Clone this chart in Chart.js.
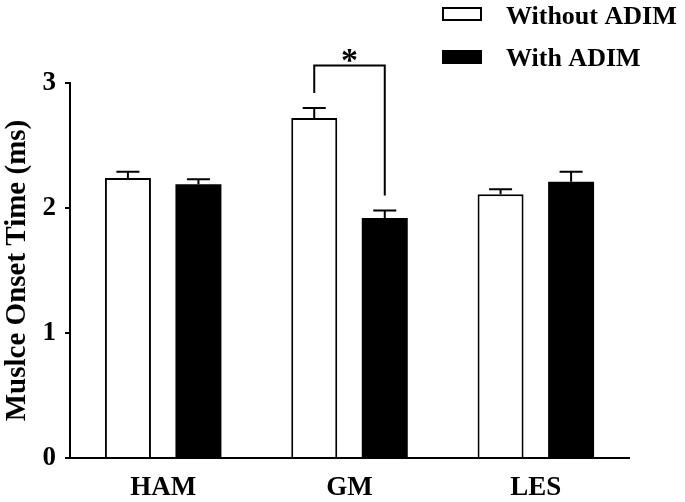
<!DOCTYPE html>
<html><head><meta charset="utf-8">
<script src="https://cdn.jsdelivr.net/npm/chart.js@4"></script>
<style>html,body{margin:0;padding:0;background:#fff}#wrap{width:685px;height:502px}</style>
</head><body><div id="wrap"><canvas id="c" width="685" height="502"></canvas></div>
<script>
const categories = ['HAM', 'GM', 'LES'];
const seriesNames = ['Without ADIM', 'With ADIM'];
const withoutADIM = [2.24, 2.72, 2.11];
const withADIM = [2.19, 1.92, 2.21];
const withoutADIMErr = [0.05, 0.08, 0.04];
const withADIMErr = [0.04, 0.06, 0.08];
const yTicks = [0, 1, 2, 3];
const yTitle = 'Muslce Onset Time (ms)';
const sigCategoryIndex = [1];
const sigLevels = [2.92, 3.14, 2.10]; // left end, bracket top, right end
const sigLabel = ['*'];

const FONT = "'Liberation Serif', 'Times New Roman', serif";

const errorBars = {
  id: 'errorBars',
  afterDatasetsDraw(chart) {
    const ctx = chart.ctx, y = chart.scales.y;
    const errs = [withoutADIMErr, withADIMErr];
    ctx.save();
    ctx.strokeStyle = '#000';
    ctx.lineWidth = 2;
    chart.data.datasets.forEach((ds, i) => {
      chart.getDatasetMeta(i).data.forEach((bar, j) => {
        const top = y.getPixelForValue(ds.data[j] + errs[i][j]);
        ctx.beginPath();
        ctx.moveTo(bar.x, bar.y);
        ctx.lineTo(bar.x, top);
        ctx.moveTo(bar.x - 11.5, top);
        ctx.lineTo(bar.x + 11.5, top);
        ctx.stroke();
      });
    });
    // significance bracket
    sigCategoryIndex.forEach((ci, k) => {
      const xl = chart.getDatasetMeta(0).data[ci].x;
      const xr = chart.getDatasetMeta(1).data[ci].x;
      const yl = y.getPixelForValue(sigLevels[0]);
      const yt = y.getPixelForValue(sigLevels[1]);
      const yr = y.getPixelForValue(sigLevels[2]);
      ctx.beginPath();
      ctx.moveTo(xl, yl); ctx.lineTo(xl, yt); ctx.lineTo(xr, yt); ctx.lineTo(xr, yr);
      ctx.stroke();
      ctx.fillStyle = '#000';
      ctx.font = 'bold 34px ' + FONT;
      ctx.textAlign = 'center';
      ctx.textBaseline = 'alphabetic';
      ctx.fillText(sigLabel[k], (xl + xr) / 2, yt + 5);
    });
    ctx.restore();
  }
};

const customLegend = {
  id: 'customLegend',
  afterDraw(chart) {
    const ctx = chart.ctx;
    ctx.save();
    ctx.font = 'bold 26px ' + FONT;
    ctx.textAlign = 'left';
    ctx.textBaseline = 'alphabetic';
    chart.data.datasets.forEach((ds, i) => {
      const by = 7 + i * 43;
      if (i === 0) {
        ctx.fillStyle = '#fff';
        ctx.fillRect(443, by + 1, 38, 12);
        ctx.strokeStyle = '#000';
        ctx.lineWidth = 2;
        ctx.strokeRect(443, by + 1, 38, 12);
      } else {
        ctx.fillStyle = '#000';
        ctx.fillRect(442, by, 40, 14);
      }
      ctx.fillStyle = '#000';
      ctx.fillText(ds.label, 506, 24 + i * 42);
    });
    ctx.restore();
  }
};

new Chart(document.getElementById('c'), {
  type: 'bar',
  data: {
    labels: categories,
    datasets: [
      { label: seriesNames[0], data: withoutADIM, backgroundColor: '#ffffff', borderColor: '#000000', borderWidth: 2 },
      { label: seriesNames[1], data: withADIM, backgroundColor: '#000000', borderColor: '#000000', borderWidth: 0 }
    ]
  },
  options: {
    responsive: false,
    animation: false,
    devicePixelRatio: 1,
    categoryPercentage: 0.757,
    barPercentage: 0.652,
    layout: { padding: { top: 83, right: 56, left: 0, bottom: 0 } },
    plugins: { legend: { display: false }, tooltip: { enabled: false } },
    scales: {
      x: {
        grid: { display: false, drawTicks: false },
        border: { display: true, color: '#000', width: 2 },
        ticks: { color: '#000', font: { family: FONT, size: 27, weight: 'bold' }, padding: 14 },
        afterFit(s) { s.height = 44; }
      },
      y: {
        min: 0, max: 3,
        afterBuildTicks(s) { s.ticks = yTicks.map(v => ({ value: v })); },
        grid: { drawOnChartArea: false, drawTicks: true, tickLength: 5, color: '#000', lineWidth: 2 },
        border: { display: true, color: '#000', width: 2 },
        ticks: { color: '#000', font: { family: FONT, size: 27, weight: 'bold' }, padding: 9 },
        title: { display: true, text: yTitle, color: '#000', font: { family: FONT, size: 29, weight: 'bold' }, padding: { top: 0, bottom: 0 } },
        afterFit(s) { s.width = 70; }
      }
    }
  },
  plugins: [errorBars, customLegend]
});
</script></body></html>
